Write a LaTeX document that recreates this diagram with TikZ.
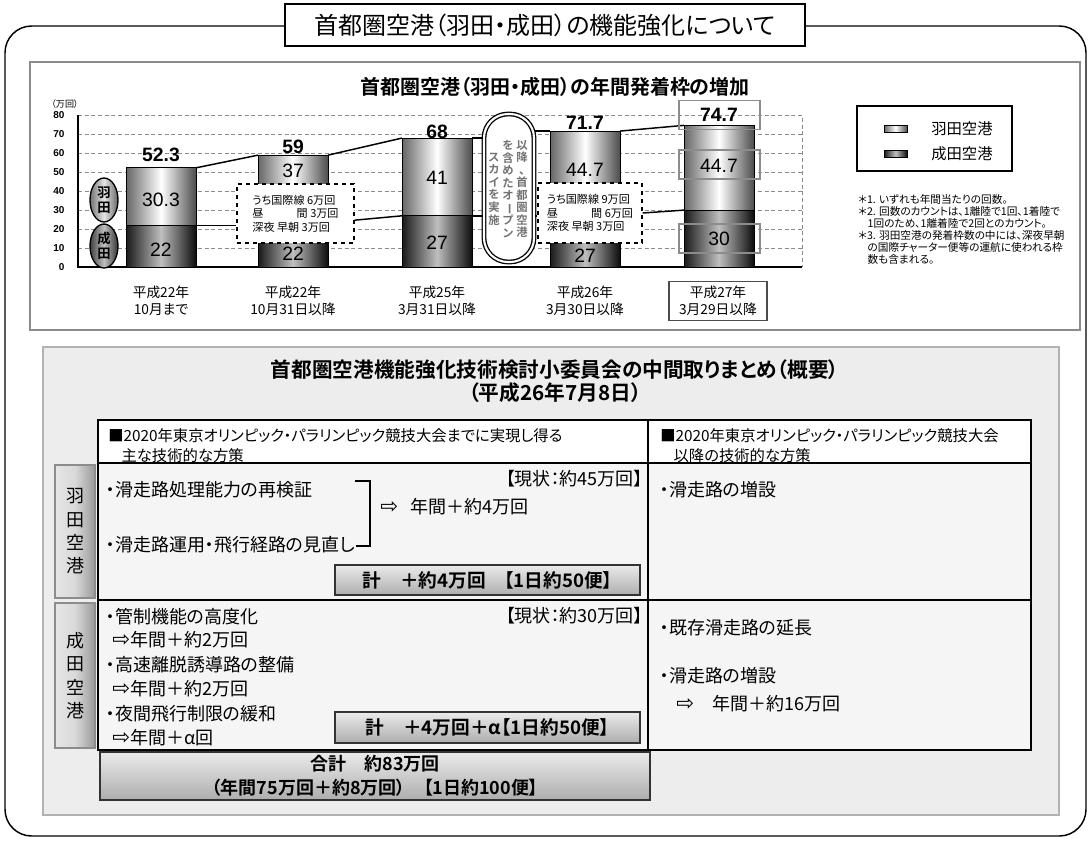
\documentclass[tikz,border=0pt]{standalone}
\usepackage{fontspec}
\setmainfont{Noto Sans CJK JP}[RawFeature=+palt,BoldFont={Noto Sans CJK JP Bold}]
\newfontfamily\numfont{Liberation Sans}
\newfontfamily\arrowfont{DejaVu Sans}
\usetikzlibrary{positioning,shapes.geometric}
\newcommand\hollowarrow{{\arrowfont\fontsize{16}{16}\selectfont ⇨}}
\begin{document}
\begin{tikzpicture}[x=0.75pt,y=-0.75pt,
  frameline/.style={line width=1.1pt},
  panelline/.style={draw=black!45,line width=1.5pt},
  hanedabar/.style={draw=black,line width=0.6pt,left color=black!60,right color=black!70,middle color=white},
  naritabar/.style={draw=black,line width=0.6pt,left color=black!90,right color=black!95,middle color=black!25},
  gridline/.style={densely dashed,draw=black!45,line width=0.5pt},
  joinline/.style={line width=1.1pt},
  barnum/.style={font=\numfont\fontsize{14.5}{16}\selectfont,inner sep=0pt},
  bartotal/.style={font=\numfont\bfseries\fontsize{14.5}{16}\selectfont,inner sep=0pt},
  ticklabel/.style={anchor=east,font=\numfont\bfseries\fontsize{7.5}{8}\selectfont,inner sep=1pt},
  yearlabel/.style={align=center,font=\fontsize{10.3}{13}\selectfont},
  notebox/.style={draw,dashed,line width=0.9pt,fill=white,align=left,inner sep=2pt,font=\fontsize{8.3}{10}\selectfont},
  markbox/.style={draw=black!45,line width=1.3pt,minimum width=81*0.75pt,minimum height=29*0.75pt},
  airport/.style={ellipse,draw,line width=1pt,minimum width=28*0.75pt,minimum height=44*0.75pt,inner sep=0pt,align=center,font=\bfseries\fontsize{10}{11}\selectfont},
  skytext/.style={align=center,inner sep=0pt,text=black!55,font=\bfseries\fontsize{8.5}{9.4}\selectfont},
  body/.style={anchor=west,inner sep=0pt,font=\fontsize{13.5}{15}\selectfont},
  headtext/.style={anchor=north west,align=left,inner sep=0pt,font=\fontsize{11.5}{15}\selectfont},
  sumbox/.style={draw=black!80,line width=2.2pt,top color=black!8,bottom color=black!32,font=\bfseries\fontsize{14}{17}\selectfont,align=center,inner sep=0pt},
  sidebox/.style={draw=black!45,line width=0.8pt,left color=black!10,right color=black!40,middle color=black!15,align=center,inner sep=0pt,font=\fontsize{13.5}{17.5}\selectfont}
]
\useasboundingbox (0,0) rectangle (1089,840);
%%% outer frame and heading
\draw[frameline,rounded corners=20pt] (5,26) rectangle (1086,836);
\node[draw,fill=white,line width=1pt,minimum width=520*0.75pt,minimum height=42*0.75pt,font=\fontsize{18}{20}\selectfont] (title) at (545,25) {首都圏空港（羽田・成田）の機能強化について};
%
%%% chart panel
\draw[panelline] (30,62) rectangle (1080,330);
\node[font=\bfseries\fontsize{15}{17}\selectfont] (charttitle) at (555,87) {首都圏空港（羽田・成田）の年間発着枠の増加};
\node[font=\fontsize{6.8}{7}\selectfont,inner sep=0pt] (unit) at (65,104) {（万回）};
% grid and axes
\foreach \v in {10,20,...,70}
  \draw[gridline] (78,{267-1.896*\v}) -- (802,{267-1.896*\v});
\draw[gridline] (78,115.3) -- (802,115.3) -- (802,267);
\draw[line width=0.8pt] (78,115.3) -- (78,267) -- (802,267);
\foreach \v in {0,10,...,80}
  \node[ticklabel] (tick\v) at (66,{267-1.896*\v}) {\v};
% bars
\foreach \bx/\nv/\hv [count=\i] in {161/22/30.3,293/22/37,437/27/41,585/27/44.7,719/30/44.7}{
  \pgfmathsetmacro\yn{267-1.896*\nv}
  \pgfmathsetmacro\yt{267-1.896*(\nv+\hv)}
  \shade[naritabar] (\bx-35,267) rectangle (\bx+35,\yn);
  \shade[hanedabar] (\bx-35,\yn) rectangle (\bx+35,\yt);
  \coordinate (nl\i) at (\bx-35,\yn);
  \coordinate (nr\i) at (\bx+35,\yn);
  \coordinate (tl\i) at (\bx-35,\yt);
  \coordinate (tr\i) at (\bx+35,\yt);
}
% open sky oval and note boxes
\node[draw,double=white,double distance=1.6pt,line width=1pt,fill=white,rounded corners=18pt,minimum width=50*0.75pt,minimum height=148*0.75pt] (sky) at (509,188) {};
\node[skytext] (sky1) at (522,189) {以\\降\\、\\首\\都\\圏\\空\\港};
\node[skytext] (sky2) at (508,189) {を\\含\\め\\た\\オ\\\rotatebox[origin=c]{-90}{ー}\\プ\\ン};
\node[skytext] (sky3) at (494,189) {ス\\カ\\イ\\を\\実\\施};
\node[notebox,minimum width=117*0.75pt,minimum height=59*0.75pt] (note1) at (295.5,213.5) {うち国際線 6万回\\昼　　　間 3万回\\深夜 早朝 3万回};
\node[notebox,minimum width=104*0.75pt,minimum height=60*0.75pt] (note2) at (590,213) {うち国際線 9万回\\昼　　　間 6万回\\深夜 早朝 3万回};
% connecting lines
\draw[joinline] (tr1) -- (tl2);
\draw[joinline] (tr2) -- (tl3);
\draw[joinline] (tr3) -- (tr3 -| sky.west);
\draw[joinline] (tl4 -| sky.east) -- (tl4);
\draw[joinline] (tr4) -- (tl5);
\draw[joinline] (nr1) -- (nr1 -| note1.west);
\draw[joinline] ([yshift=-5pt]note1.east) -- (nl3);
\draw[joinline] (nr3) -- (nr3 -| sky.west);
\draw[joinline] (nr3 -| sky.east) -- (nr3 -| note2.west);
\draw[joinline] (note2.east) -- (nl5);
% values
\node[barnum] (h1val) at (161,200) {30.3};
\node[barnum] (n1val) at (161,250) {22};
\node[barnum] (h2val) at (293,171) {37};
\node[barnum] (n2val) at (293,254) {22};
\node[barnum] (h3val) at (437,178) {41};
\node[barnum] (n3val) at (437,243) {27};
\node[barnum] (h4val) at (585,170) {44.7};
\node[barnum] (n4val) at (585,256) {27};
\node[barnum] (h5val) at (719,166) {44.7};
\node[barnum] (n5val) at (719,239) {30};
\node[bartotal] (t1val) at (161,155) {52.3};
\node[bartotal] (t2val) at (293,147) {59};
\node[bartotal] (t3val) at (437,132) {68};
\node[bartotal] (t4val) at (585,123) {71.7};
\node[bartotal] (t5val) at (719,115) {74.7};
\node[markbox] (mark1) at (719.5,115) {};
\node[markbox] (mark2) at (719.5,164.5) {};
\node[markbox] (mark3) at (719.5,238.5) {};
% airport ovals
\node[airport,left color=black!55,right color=black!60,middle color=black!10] (hanedaoval) at (104,200) {羽\\田};
\node[airport,left color=black!75,right color=black!80,middle color=black!25] (naritaoval) at (104,246) {成\\田};
% year labels
\node[yearlabel] (year1) at (161,301) {平成22年\\10月まで};
\node[yearlabel] (year2) at (293,301) {平成22年\\10月31日以降};
\node[yearlabel] (year3) at (437,301) {平成25年\\3月31日以降};
\node[yearlabel] (year4) at (585,301) {平成26年\\3月30日以降};
\node[yearlabel,draw=black!70,line width=0.9pt,minimum width=98*0.75pt,minimum height=38*0.75pt] (year5) at (718,301) {平成27年\\3月29日以降};
% legend and notes
\node[draw,line width=1.2pt,minimum width=155*0.75pt,minimum height=65*0.75pt] (legend) at (934.5,138.5) {};
\shade[hanedabar] (884,125) rectangle (907,132);
\shade[naritabar] (884,150) rectangle (907,157);
\node[anchor=west,inner sep=0pt,font=\fontsize{11.5}{13}\selectfont] (legh) at (931,128.5) {羽田空港};
\node[anchor=west,inner sep=0pt,font=\fontsize{11.5}{13}\selectfont] (legn) at (931,154) {成田空港};
\node[anchor=north west,align=left,inner sep=0pt,font=\fontsize{8}{9}\selectfont] (notes) at (858,194)
  {＊1. いずれも年間当たりの回数。\\
   ＊2. 回数のカウントは、1離陸で1回、1着陸で\\
   \hspace*{7pt}1回のため、1離着陸で2回とのカウント。\\
   ＊3. 羽田空港の発着枠数の中には、深夜早朝\\
   \hspace*{7pt}の国際チャーター便等の運航に使われる枠\\
   \hspace*{7pt}数も含まれる。};
%
%%% summary panel
\draw[draw=black!30,line width=1.5pt,fill=black!7] (43,347) rectangle (1059,815);
\node[font=\bfseries\fontsize{15.5}{18}\selectfont] (subtitle1) at (555,370) {首都圏空港機能強化技術検討小委員会の中間取りまとめ（概要）};
\node[font=\bfseries\fontsize{15.5}{18}\selectfont] (subtitle2) at (555,393) {（平成26年7月8日）};
% table
\draw[line width=1.5pt,fill=white] (98,420) rectangle (1031,463);
\draw[line width=1.5pt,fill=black!4] (98,463) rectangle (1031,600);
\draw[line width=1.5pt,fill=black!4] (98,600) rectangle (1031,750);
\draw[line width=1.5pt] (648,420) -- (648,750);
\node[headtext] (headleft) at (108,428) {■2020年東京オリンピック・パラリンピック競技大会までに実現し得る\\\hspace*{10pt}主な技術的な方策};
\node[headtext] (headright) at (660,428) {■2020年東京オリンピック・パラリンピック競技大会\\\hspace*{10pt}以降の技術的な方策};
\node[sidebox,minimum width=40*0.75pt,minimum height=133*0.75pt] (hlabel) at (75,531.5) {羽\\田\\空\\港};
\node[sidebox,minimum width=40*0.75pt,minimum height=145*0.75pt] (nlabel) at (75,675.5) {成\\田\\空\\港};
% Haneda row
\node[body] (h1) at (106,490) {・滑走路処理能力の再検証};
\node[body] (h2) at (106,545) {・滑走路運用・飛行経路の見直し};
\draw[line width=1pt] (355,481) -- (370,481) -- (370,546) -- (356,546);
\node[body] (harrow) at (380,507) {\hollowarrow};
\node[body] (hgain) at (410,507) {年間＋約4万回};
\node[body,anchor=east] (hnow) at (643,479) {【現状：約45万回】};
\node[sumbox,minimum width=305*0.75pt,minimum height=30*0.75pt] (hsum) at (487.5,580) {計　＋約4万回　【1日約50便】};
\node[body] (hr1) at (660,490) {・滑走路の増設};
% Narita row
\node[body] (n1) at (106,617) {・管制機能の高度化};
\node[body] (n1g) at (112,640) {\hollowarrow 年間＋約2万回};
\node[body] (n2) at (106,665) {・高速離脱誘導路の整備};
\node[body] (n2g) at (112,689) {\hollowarrow 年間＋約2万回};
\node[body] (n3) at (106,714) {・夜間飛行制限の緩和};
\node[body] (n3g) at (112,738) {\hollowarrow 年間＋α回};
\node[body,anchor=east] (nnow) at (643,616) {【現状：約30万回】};
\node[sumbox,minimum width=305*0.75pt,minimum height=31*0.75pt] (nsum) at (487.5,727.5) {計　＋4万回＋α【1日約50便】};
\node[body] (nr1t) at (660,628) {・既存滑走路の延長};
\node[body] (nr2t) at (660,676) {・滑走路の増設};
\node[body] (nr3t) at (676,704) {\hollowarrow　年間＋約16万回};
% total
\node[sumbox,minimum width=550*0.75pt,minimum height=48*0.75pt,font=\bfseries\fontsize{13.5}{18}\selectfont] (total) at (375,776) {合計　約83万回\\（年間75万回＋約8万回）　【1日約100便】};
\end{tikzpicture}
\end{document}
